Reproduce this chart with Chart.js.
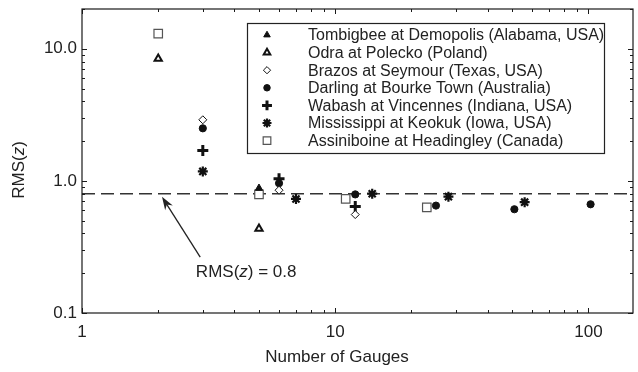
<!DOCTYPE html>
<html>
<head>
<meta charset="utf-8">
<script src="https://cdn.jsdelivr.net/npm/chart.js@4.4.0/dist/chart.umd.min.js"></script>
<style>
  body { margin: 0; background: #fff; }
  #wrap { width: 638px; height: 372px; }
</style>
</head>
<body>
<div id="wrap"><canvas id="rmsChart" width="638" height="372"></canvas></div>
<script>
const seriesNames = [
  "Tombigbee at Demopolis (Alabama, USA)",
  "Odra at Polecko (Poland)",
  "Brazos at Seymour (Texas, USA)",
  "Darling at Bourke Town (Australia)",
  "Wabash at Vincennes (Indiana, USA)",
  "Mississippi at Keokuk (Iowa, USA)",
  "Assiniboine at Headingley (Canada)"
];
const gaugesTombigbee = [5];
const rmsTombigbee = [0.88];
const gaugesOdra = [2, 5];
const rmsOdra = [8.4, 0.435];
const gaugesBrazos = [3, 6, 12];
const rmsBrazos = [2.9, 0.85, 0.556];
const gaugesDarling = [3, 6, 12, 25, 51, 102];
const rmsDarling = [2.5, 0.96, 0.79, 0.65, 0.61, 0.665];
const gaugesWabash = [3, 6, 12];
const rmsWabash = [1.70, 1.04, 0.64];
const gaugesMississippi = [3, 7, 14, 28, 56];
const rmsMississippi = [1.18, 0.73, 0.80, 0.76, 0.69];
const gaugesAssiniboine = [2, 5, 11, 23];
const rmsAssiniboine = [13.0, 0.79, 0.73, 0.63];
const thresholdRms = 0.8;
const xTickLabels = [1, 10, 100];
const yTickLabels = [0.1, 1, 10];

const FONT = '"Liberation Sans", Arial, Helvetica, sans-serif';
const INK = "#111";

function pts(xs, ys) {
  return xs.map((v, i) => ({ x: v, y: ys[i] }));
}

// marker look for each river, same order as seriesNames
const markers = [
  { pointStyle: "triangle", radius: 4.2, fill: INK, stroke: INK, width: 1 },
  { pointStyle: "triangle", radius: 4.2, fill: "#fff", stroke: INK, width: 2 },
  { pointStyle: "rectRot", radius: 4, fill: "#fff", stroke: INK, width: 1 },
  { pointStyle: "circle", radius: 3.6, fill: INK, stroke: INK, width: 1 },
  { pointStyle: "cross", radius: 5.5, fill: INK, stroke: INK, width: 3 },
  { pointStyle: "star", radius: 5, fill: INK, stroke: INK, width: 2.2 },
  { pointStyle: "rect", radius: 6, fill: "#fff", stroke: "#555", width: 1.2 }
];
const seriesData = [
  pts(gaugesTombigbee, rmsTombigbee),
  pts(gaugesOdra, rmsOdra),
  pts(gaugesBrazos, rmsBrazos),
  pts(gaugesDarling, rmsDarling),
  pts(gaugesWabash, rmsWabash),
  pts(gaugesMississippi, rmsMississippi),
  pts(gaugesAssiniboine, rmsAssiniboine)
];

function logSteps(min, max) {
  const out = [];
  for (let e = Math.floor(Math.log10(min)); e <= Math.ceil(Math.log10(max)); e++) {
    for (let k = 1; k <= 9; k++) {
      const v = k * Math.pow(10, e);
      if (v >= min * 0.999 && v <= max * 1.001) out.push([v, k === 1]);
    }
  }
  return out;
}

function drawRich(ctx, parts, x, y, size) {
  const fonts = parts.map(p => (p[1] ? "italic " : "") + size + "px " + FONT);
  const widths = parts.map((p, i) => { ctx.font = fonts[i]; return ctx.measureText(p[0]).width; });
  let cx = x - widths.reduce((s, w) => s + w, 0) / 2;
  ctx.textAlign = "left";
  parts.forEach((p, i) => { ctx.font = fonts[i]; ctx.fillText(p[0], cx, y); cx += widths[i]; });
}

const frameTicks = {
  id: "frameTicks",
  afterDatasetsDraw(chart) {
    const { ctx, chartArea: a, scales: { x, y } } = chart;
    ctx.save();
    ctx.strokeStyle = "#1a1a1a";
    ctx.lineWidth = 1.2;
    ctx.strokeRect(a.left, a.top, a.right - a.left, a.bottom - a.top);
    ctx.lineWidth = 1;
    ctx.beginPath();
    logSteps(x.min, x.max).forEach(([v, major]) => {
      const px = Math.round(x.getPixelForValue(v)) + 0.5;
      const len = major ? 5 : 3;
      ctx.moveTo(px, a.bottom); ctx.lineTo(px, a.bottom - len);
      ctx.moveTo(px, a.top); ctx.lineTo(px, a.top + len);
    });
    logSteps(y.min, y.max).forEach(([v, major]) => {
      const py = Math.round(y.getPixelForValue(v)) + 0.5;
      const len = major ? 5 : 3;
      ctx.moveTo(a.left, py); ctx.lineTo(a.left + len, py);
      ctx.moveTo(a.right, py); ctx.lineTo(a.right - len, py);
    });
    ctx.stroke();

    // axis titles
    ctx.fillStyle = "#222";
    ctx.textBaseline = "middle";
    ctx.font = "17px " + FONT;
    ctx.textAlign = "center";
    ctx.fillText("Number of Gauges", 337, 357);
    ctx.save();
    ctx.translate(19, 170);
    ctx.rotate(-Math.PI / 2);
    drawRich(ctx, [["RMS(", false], ["z", true], [")", false]], 0, 0, 17);
    ctx.restore();

    // annotation with arrow
    const tx = x.getPixelForValue(2.93), ty = y.getPixelForValue(0.265);
    const hx = x.getPixelForValue(2.07), hy = y.getPixelForValue(0.757);
    const ang = Math.atan2(hy - ty, hx - tx);
    ctx.strokeStyle = "#222";
    ctx.lineWidth = 1.3;
    ctx.beginPath();
    ctx.moveTo(tx, ty);
    ctx.lineTo(hx - 8 * Math.cos(ang), hy - 8 * Math.sin(ang));
    ctx.stroke();
    ctx.beginPath();
    ctx.moveTo(hx, hy);
    ctx.lineTo(hx - 13 * Math.cos(ang) + 4.5 * Math.sin(ang), hy - 13 * Math.sin(ang) - 4.5 * Math.cos(ang));
    ctx.lineTo(hx - 9 * Math.cos(ang), hy - 9 * Math.sin(ang));
    ctx.lineTo(hx - 13 * Math.cos(ang) - 4.5 * Math.sin(ang), hy - 13 * Math.sin(ang) + 4.5 * Math.cos(ang));
    ctx.closePath();
    ctx.fillStyle = "#222";
    ctx.fill();
    drawRich(ctx, [["RMS(", false], ["z", true], [") = 0.8", false]],
      x.getPixelForValue(4.45), y.getPixelForValue(0.205), 17);
    ctx.restore();
  }
};

const boxLegend = {
  id: "boxLegend",
  afterDraw(chart) {
    const { ctx, chartArea: a } = chart;
    const left = 247, top = a.top + 14, w = 357, h = 130;
    ctx.save();
    ctx.fillStyle = "#fff";
    ctx.fillRect(left, top, w, h);
    ctx.strokeStyle = "#222";
    ctx.lineWidth = 1.2;
    ctx.strokeRect(left + 0.5, top + 0.5, w, h);
    ctx.font = "16px " + FONT;
    ctx.textBaseline = "middle";
    ctx.textAlign = "left";
    seriesNames.forEach((name, i) => {
      const m = markers[i];
      const cy = top + 12 + i * 17.6;
      ctx.fillStyle = m.fill;
      ctx.strokeStyle = m.stroke;
      ctx.lineWidth = m.width;
      Chart.helpers.drawPoint(ctx, { pointStyle: m.pointStyle, radius: m.radius * 0.9, borderWidth: m.width, rotation: 0 }, left + 20, cy);
      ctx.fillStyle = "#222";
      ctx.fillText(name, left + 61, cy + 1);
    });
    ctx.restore();
  }
};

const datasets = seriesNames.map((name, i) => ({
  label: name,
  data: seriesData[i],
  pointStyle: markers[i].pointStyle,
  pointRadius: markers[i].radius,
  pointBackgroundColor: markers[i].fill,
  pointBorderColor: markers[i].stroke,
  pointBorderWidth: markers[i].width,
  showLine: false,
  order: 1
}));
datasets.push({
  type: "line",
  label: "RMS(z) = 0.8",
  data: [{ x: 1, y: thresholdRms }, { x: 150, y: thresholdRms }],
  borderColor: "#333",
  borderWidth: 1.5,
  borderDash: [13, 6],
  pointRadius: 0,
  order: 10
});

new Chart(document.getElementById("rmsChart"), {
  type: "scatter",
  data: { datasets },
  options: {
    responsive: false,
    animation: false,
    events: [],
    layout: { autoPadding: false, padding: { top: 9, right: 5, left: 0, bottom: 0 } },
    plugins: { legend: { display: false }, tooltip: { enabled: false } },
    scales: {
      x: {
        type: "logarithmic",
        min: 1,
        max: 150,
        grid: { display: false, drawTicks: false },
        border: { display: false },
        afterFit(scale) {
          scale.height = 59;
          scale.paddingLeft = 0;
          scale.paddingRight = 0;
        },
        ticks: {
          autoSkip: false,
          maxRotation: 0,
          padding: 9,
          color: "#222",
          font: { family: FONT, size: 17 },
          callback(value) {
            const v = Number(value);
            return xTickLabels.some(t => Math.abs(t - v) / t < 1e-6) ? String(Math.round(v)) : "";
          }
        }
      },
      y: {
        type: "logarithmic",
        min: 0.1,
        max: 20,
        grid: { display: false, drawTicks: false },
        border: { display: false },
        afterFit(scale) {
          scale.width = 82;
          scale.paddingTop = 0;
          scale.paddingBottom = 0;
        },
        ticks: {
          autoSkip: false,
          padding: 5,
          color: "#222",
          font: { family: FONT, size: 17 },
          callback(value) {
            const v = Number(value);
            return yTickLabels.some(t => Math.abs(t - v) / t < 1e-6) ? v.toFixed(1) : "";
          }
        }
      }
    }
  },
  plugins: [frameTicks, boxLegend]
});
</script>
</body>
</html>
